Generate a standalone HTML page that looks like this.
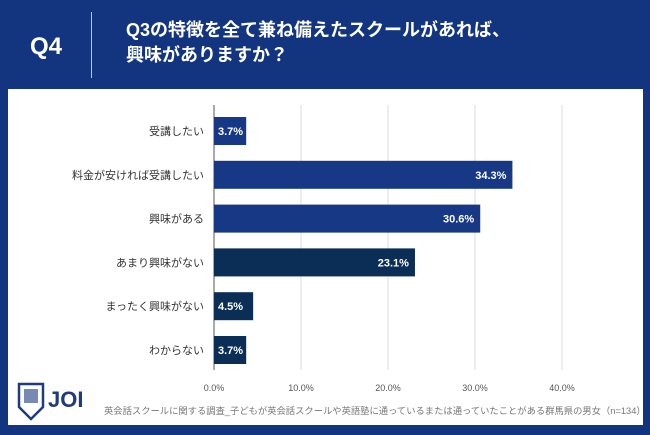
<!DOCTYPE html>
<html><head><meta charset="utf-8"><style>
body{margin:0;width:650px;height:435px;background:#133580;overflow:hidden;font-family:"Liberation Sans","Noto Sans CJK JP",sans-serif;position:relative}
.q{position:absolute;left:30px;top:33px;color:#fff;font-size:24px;font-weight:bold}
.sep{position:absolute;left:91px;top:12px;width:1px;height:66px;background:#b9c3dc}
.title{position:absolute;left:126px;top:18px;color:#fff;font-size:18px;font-weight:bold;line-height:25px}
.panel{position:absolute;left:8px;top:89px;width:635px;height:336px;background:#fff}
.foot{position:absolute;left:104px;top:403px;font-size:9.3px;letter-spacing:0;color:#777;white-space:nowrap}
.logo{position:absolute;left:16px;top:381px}
</style></head><body>
<div class="q">Q4</div>
<div class="sep"></div>
<div class="title">Q3の特徴を全て兼ね備えたスクールがあれば、<br>興味がありますか？</div>
<div class="panel"></div>
<svg id="chart" width="650" height="435" style="position:absolute;left:0;top:0"></svg>
<div class="logo">
<svg width="80" height="40"><path d="M3 3 L27 3 L27 26 L15 38 L3 26 Z" fill="none" stroke="#1e3a80" stroke-width="2.5"/><rect x="8" y="8" width="14" height="14" fill="#1e3a80" opacity=".6"/><text x="32" y="26" font-size="22" font-weight="bold" fill="#1e3a80" font-family="Liberation Sans">JOI</text></svg>
</div>
<div class="foot">英会話スクールに関する調査_子どもが英会話スクールや英語塾に通っているまたは通っていたことがある群馬県の男女（n=134）</div>
<script>
const categories=["受講したい","料金が安ければ受講したい","興味がある","あまり興味がない","まったく興味がない","わからない"];
const values=[3.7,34.3,30.6,23.1,4.5,3.7];
const colors=["#173884","#173884","#173884","#0b2e57","#0b2e57","#0b2e57"];
const ticks=[0,10,20,30,40];
const tickLabels=["0.0%","10.0%","20.0%","30.0%","40.0%"];
const svg=document.getElementById('chart');
const NS="http://www.w3.org/2000/svg";
const x0=214,pxPer=8.7,y0=131,step=43.8,bh=28;
const xs=v=>x0+v*pxPer, ys=i=>y0+i*step;
function mk(t,a){const e=document.createElementNS(NS,t);for(const k in a)e.setAttribute(k,a[k]);svg.appendChild(e);return e;}
ticks.forEach((t,i)=>{
 const g=mk('line',{x1:xs(t),x2:xs(t),y1:105,y2:370,stroke:t===0?'#555':'#ddd','stroke-width':1});
 
 
 const l=mk('text',{x:xs(t),y:391,'font-size':9,fill:'#555','text-anchor':'middle'});
 l.textContent=tickLabels[i];
 
 
});
categories.forEach((c,i)=>{
 const r=mk('rect',{x:xs(0),y:ys(i)-bh/2,width:values[i]*pxPer,height:bh,fill:colors[i]});
 
 
 const l=mk('text',{x:204,y:ys(i)+4,'font-size':11,fill:'#333','text-anchor':'end'});
 l.textContent=c;
 
 
 const inside=values[i]>10;
 const v=mk('text',{x:inside?xs(values[i])-6:xs(0)+4,y:ys(i)+4,'font-size':11,'font-weight':'bold',fill:'#fff','text-anchor':inside?'end':'start'});
 v.textContent=values[i].toFixed(1)+'%';
 
 
});
</script>
</body></html>
